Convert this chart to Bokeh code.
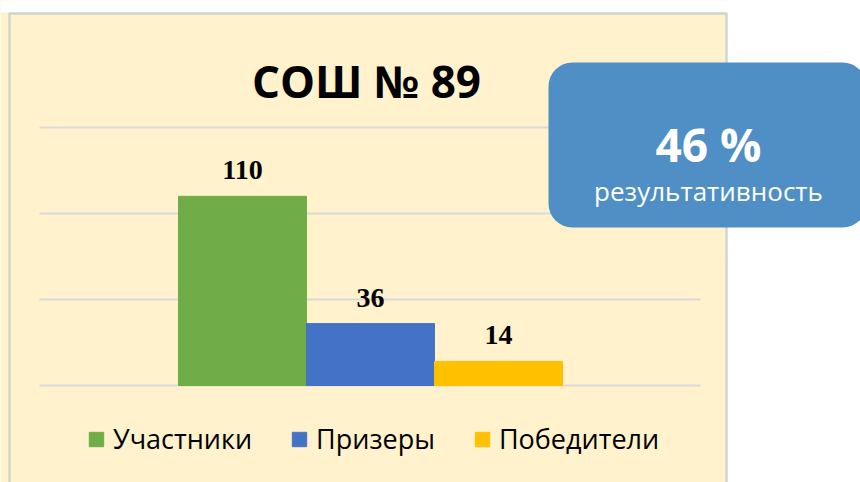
from bokeh.plotting import figure
from bokeh.models import (Range1d, ColumnDataSource, LabelSet, Label, BoxAnnotation,
                          Legend, LegendItem)
from bokeh.embed import file_html
from bokeh.resources import INLINE

# ---- data ----
categories = ["Участники", "Призеры", "Победители"]
values = [110, 36, 14]
colors = ["#70AD47", "#4472C4", "#FFC000"]
grid_ticks = [0, 50, 100, 150]
title_text = "СОШ № 89"
badge_value = "46 %"
badge_text = "результативность"

# ---- layout (picture pixels) ----
W, H = 860, 482
G_LEFT, G_RIGHT, G_TOP, G_BOTTOM = 39, 700, 127, 385   # gridline area
BAR_PX = 128
FIRST_CENTER = 242
PX_PER_UNIT = (G_BOTTOM - G_TOP) / grid_ticks[-1]

def sx(px):           # picture x -> canvas screen x
    return px

def sy(py):           # picture y -> canvas screen y (from bottom)
    return H - py

x0 = -FIRST_CENTER / BAR_PX
x_range = Range1d(x0, x0 + W / BAR_PX)
y0 = -sy(G_BOTTOM) / PX_PER_UNIT
y_range = Range1d(y0, y0 + H / PX_PER_UNIT)

def dx(px):           # picture x -> data x
    return x0 + px / BAR_PX

p = figure(width=W, height=H, x_range=x_range, y_range=y_range,
           x_axis_type=None, y_axis_type=None, toolbar_location=None,
           output_backend="svg", min_border=0)
p.outline_line_color = None
p.background_fill_color = "#FFF2CC"
p.border_fill_color = "#FFF2CC"
p.grid.visible = False

# gridlines
p.segment(x0=[dx(G_LEFT)] * len(grid_ticks), x1=[dx(G_RIGHT)] * len(grid_ticks),
          y0=grid_ticks, y1=grid_ticks, line_color="#D9D9D9", line_width=2)

src = ColumnDataSource(dict(x=list(range(len(categories))), top=values,
                            cat=categories, color=colors,
                            lbl=[str(v) for v in values]))
bars = p.vbar(x="x", top="top", width=1.0, color="color", source=src)

p.add_layout(LabelSet(x="x", y="top", text="lbl", source=src, text_align="center",
                      text_baseline="alphabetic", y_offset=17,
                      text_font="Liberation Serif", text_font_style="bold",
                      text_font_size="28px", text_color="#000000"))

legend = Legend(items=[LegendItem(label=c, renderers=[bars], index=i)
                       for i, c in enumerate(categories)],
                orientation="horizontal", location=(sx(87), sy(457)),
                glyph_width=18, glyph_height=18, label_standoff=8, spacing=38,
                label_text_font="Open Sans", label_text_font_size="27px",
                label_text_color="#000000", padding=0, margin=0,
                border_line_color=None, background_fill_alpha=0)
p.add_layout(legend, "center")

scr = dict(left_units="screen", right_units="screen",
           top_units="screen", bottom_units="screen")
# white area outside the panel
p.add_layout(BoxAnnotation(left=sx(727), right=sx(900), top=sy(-10), bottom=sy(520),
                           fill_color="white", fill_alpha=1, line_color=None, **scr))
p.add_layout(BoxAnnotation(left=sx(-10), right=sx(900), top=sy(-10), bottom=sy(12),
                           fill_color="white", fill_alpha=1, line_color=None, **scr))
# panel border
p.add_layout(BoxAnnotation(left=sx(9), right=sx(726), top=sy(13), bottom=sy(520),
                           fill_alpha=0, line_color="#5B95CF", line_width=2.5, **scr))
# badge
p.add_layout(BoxAnnotation(left=sx(548), right=sx(866), top=sy(62), bottom=sy(227),
                           fill_color="#4F8FC6", fill_alpha=1, line_color=None,
                           border_radius=24, **scr))

p.add_layout(Label(x=sx(366), y=sy(80), x_units="screen", y_units="screen",
                   text=title_text, text_align="center", text_baseline="alphabetic",
                   text_font="Open Sans", text_font_style="bold",
                   text_font_size="44px", text_color="#000000"))
p.add_layout(Label(x=sx(708), y=sy(143), x_units="screen", y_units="screen",
                   text=badge_value, text_align="center", text_baseline="alphabetic",
                   text_font="Open Sans", text_font_style="bold",
                   text_font_size="46px", text_color="#FFFFFF"))
p.add_layout(Label(x=sx(708), y=sy(190), x_units="screen", y_units="screen",
                   text=badge_text, text_align="center", text_baseline="alphabetic",
                   text_font="Open Sans", text_font_size="26px", text_color="#FFFFFF"))

open("out.html", "w").write(file_html(p, INLINE))
